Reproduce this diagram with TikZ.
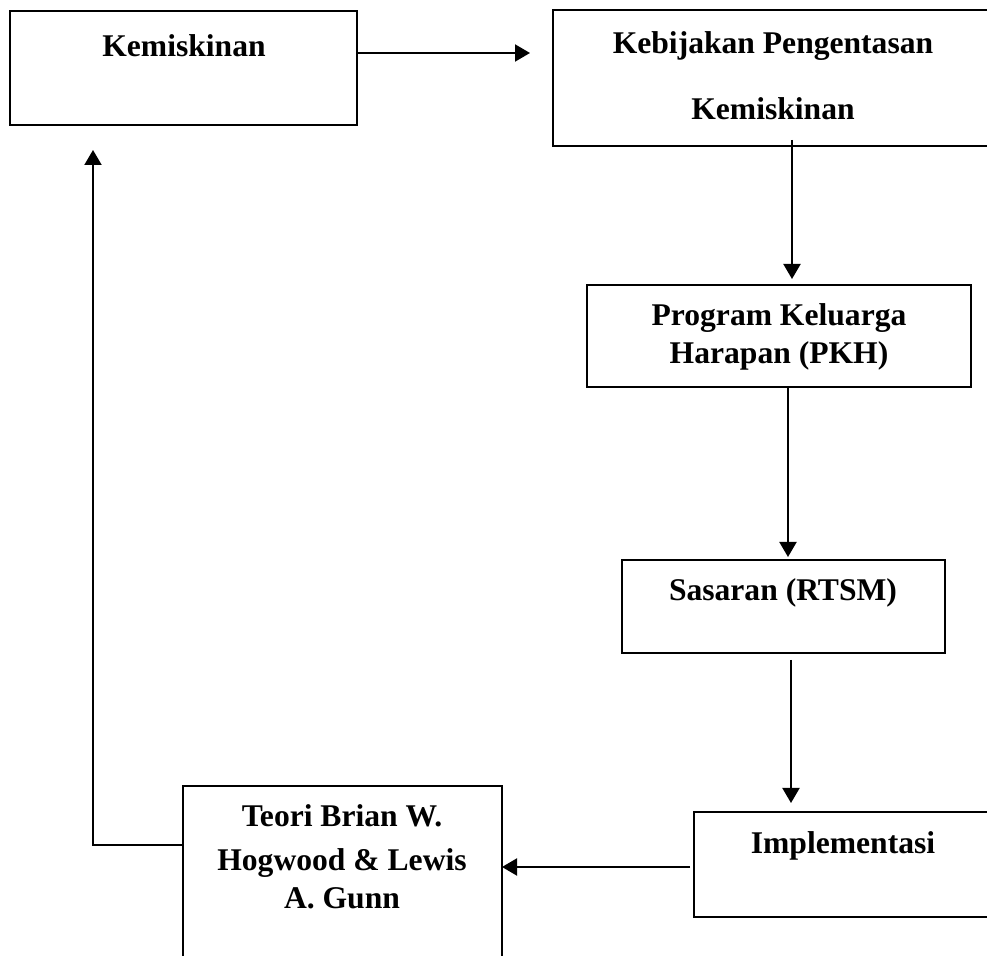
\documentclass[tikz,border=0pt]{standalone}
\usepackage{fontspec}
\setmainfont{Liberation Serif}
\usepackage{tikz}
\usetikzlibrary{arrows.meta,positioning,calc}
\definecolor{ink}{HTML}{000000}
\tikzset{
  framebox/.style={
    draw=ink, line width=1pt, inner sep=0pt, outer sep=0pt
  },
  boxtext/.style={
    font=\bfseries\fontsize{15.8}{19}\selectfont, align=center,
    inner sep=0pt, text=ink
  },
  flowarrow/.style={draw=ink, line width=1pt, -{Triangle[length=7.5pt,width=8.5pt]}}
}

\begin{document}
\begin{tikzpicture}[x=0.5pt,y=-0.5pt]
  \useasboundingbox (0,0) rectangle (987,956);
  \clip (0,0) rectangle (987,956);
  % boxes
  \node[framebox, minimum width=173.5pt, minimum height=57pt] (kemiskinan) at (183.5,68) {};
  \node[framebox, minimum width=221pt, minimum height=68pt] (kebijakan) at (774,78) {};
  \node[framebox, minimum width=192pt, minimum height=51pt] (pkh) at (779,336) {};
  \node[framebox, minimum width=161.5pt, minimum height=46.5pt] (sasaran) at (783.5,606.5) {};
  \node[framebox, minimum width=150.5pt, minimum height=52.5pt] (implementasi) at (844.5,864.5) {};
  \node[framebox, minimum width=159.5pt, minimum height=92pt] (teori) at (342.5,878) {};
  % texts
  \node[boxtext] (kemiskinantext) at (184,46) {Kemiskinan};
  \node[boxtext] (kebijakantext) at (773,76) {Kebijakan Pengentasan\\[14pt] Kemiskinan};
  \node[boxtext] (pkhtext) at (779,337) {Program Keluarga\\ Harapan (PKH)};
  \node[boxtext] (sasarantext) at (783,593) {Sasaran (RTSM)};
  \node[boxtext] (implementasitext) at (843,846) {Implementasi};
  \node[boxtext] (teoritext) at (342,857) {Teori Brian W.\\[3pt] Hogwood \& Lewis\\ A. Gunn};
  % connectors
  \coordinate (back) at (93,150);
  \draw[flowarrow, shorten >=11.5pt] ([yshift=7.5pt]kemiskinan.east) -- ([yshift=7.5pt]kemiskinan.east -| kebijakan.west);
  \draw[flowarrow] ([xshift=9pt,yshift=3pt]kebijakan.south) -- ([xshift=9pt,yshift=3pt]kebijakan.south |- pkh.north);
  \draw[flowarrow, shorten >=1.5pt] ([xshift=4.5pt]pkh.south) -- ([xshift=4.5pt]pkh.south |- sasaran.north);
  \draw[flowarrow, shorten <=3.5pt, shorten >=4.5pt] ([xshift=3.75pt]sasaran.south) -- ([xshift=3.75pt]sasaran.south |- implementasi.north);
  \draw[flowarrow] ([xshift=-2pt,yshift=-1.25pt]implementasi.west) -- ([yshift=-1.25pt]implementasi.west -| teori.east);
  \draw[flowarrow] ([yshift=16.5pt]teori.west) -| (back);
\end{tikzpicture}
\end{document}
